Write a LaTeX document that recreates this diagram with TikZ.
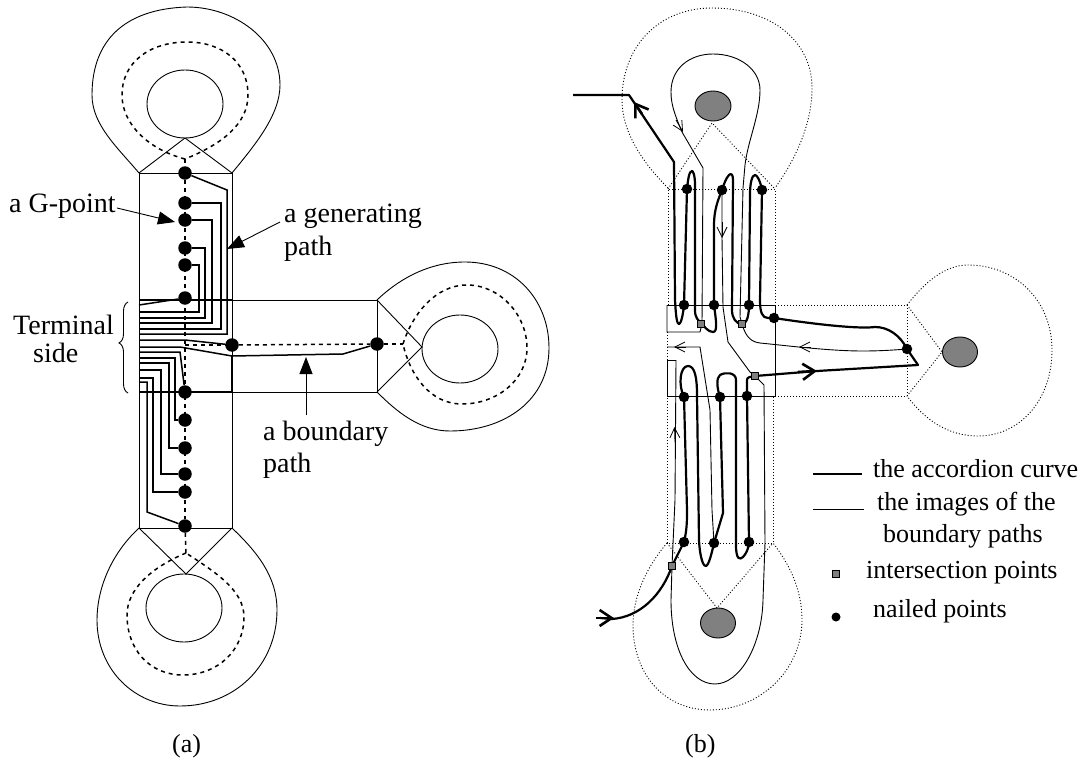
\documentclass[tikz,border=0pt]{standalone}
\usepackage{fontspec}
\setmainfont{Liberation Serif}
\usetikzlibrary{arrows.meta,decorations.pathreplacing}
\tikzset{
	lbl/.style={font=\fontsize{26}{30}\selectfont,anchor=base west,inner sep=0pt},
	biglbl/.style={font=\fontsize{28}{32}\selectfont,anchor=base west,inner sep=0pt},
	thinline/.style={line width=0.9pt},
	dashline/.style={line width=1.5pt,dash pattern=on 4pt off 4pt},
	dotline/.style={line width=0.9pt,dash pattern=on 1pt off 2pt},
	genpath/.style={line width=1.5pt},
	accord/.style={line width=2.2pt,line join=round},
	pointer/.style={line width=0.9pt,-{Triangle[length=17pt,width=13pt]}},
	gpt/.style={circle,fill=black,inner sep=0pt,minimum size=13.5pt},
	nailpt/.style={circle,fill=black,inner sep=0pt,minimum size=10.5pt},
	interpt/.style={rectangle,draw=black,fill=black!50,line width=0.6pt,inner sep=0pt,minimum size=7pt},
	hole/.style={draw=black,fill=black!50,line width=0.9pt},
	bigbarb/.style={line width=2.6pt,-{Straight Barb[length=12pt,width=16pt]}},
	smallbarb/.style={line width=0.8pt,-{Straight Barb[length=10pt,width=10pt]}}
}
\begin{document}
\begin{tikzpicture}[x=1pt,y=-1pt]
	\useasboundingbox (0,0) rectangle (1088,768);

	% (a) frame and lobes
	\draw[thinline] (139,173) rectangle (232,528);
	\draw[thinline] (232,300) rectangle (377,392);
	\draw[thinline] (139,173)--(185,138)--(232,173);
	\draw[thinline] (377,300)--(422,347)--(377,392);
	\draw[thinline] (139,528)--(186,574)--(232,528);
	\draw[thinline] (139,173) .. controls (118,148) and (92,125) .. (92,95) .. controls (92,40) and (125,9) .. (187,7) .. controls (235,7) and (280,40) .. (280,85) .. controls (280,115) and (255,145) .. (232,173);
	\draw[thinline] (139,528) .. controls (110,555) and (97,590) .. (97,620) .. controls (97,670) and (135,706) .. (180,706) .. controls (235,706) and (277,665) .. (277,610) .. controls (277,575) and (255,550) .. (232,528);
	\draw[thinline] (377,300) .. controls (400,278) and (430,262) .. (465,262) .. controls (515,262) and (549,300) .. (549,348) .. controls (549,400) and (505,431) .. (450,431) .. controls (420,431) and (397,412) .. (377,392);
	\draw[thinline] (185,104) ellipse (38 and 34);
	\draw[thinline] (184,608) ellipse (38 and 34);
	\draw[thinline] (460,349) ellipse (38 and 34);
	\draw[dashline] (185,159) .. controls (150,150) and (122,125) .. (122,95) .. controls (122,62) and (150,42) .. (187,42) .. controls (222,42) and (248,62) .. (248,95) .. controls (248,125) and (220,145) .. (185,159);
	\draw[dashline] (186,553) .. controls (150,568) and (127,590) .. (127,615) .. controls (127,650) and (150,675) .. (183,675) .. controls (218,675) and (244,650) .. (244,617) .. controls (244,590) and (215,572) .. (186,553);
	\draw[dashline] (403,344) .. controls (412,315) and (435,285) .. (467,285) .. controls (500,285) and (527,315) .. (527,348) .. controls (527,380) and (497,404) .. (462,404) .. controls (430,404) and (410,375) .. (403,344);

	% G-points
	\foreach \n/\y in {1/173,2/203,3/220,4/248,5/265,6/298,7/392,8/420,9/448,10/474,11/492,12/526}
		\node[gpt] (g\n) at (185,\y) {};
	\node[gpt] (bl) at (232,345) {};
	\node[gpt] (br) at (377,344) {};
	\coordinate (dtop) at (185,159);
	\coordinate (dbot) at (186,553);
	\coordinate (dright) at (403,344);
	\coordinate (dmid) at (185,345);
	\draw[dashline] (dtop)--(g1);
	\draw[dashline] (g1)--(g12);
	\draw[dashline] (g12)--(dbot);
	\draw[dashline] (dmid)--(bl);
	\draw[dashline] (bl)--(br);
	\draw[dashline] (br)--(dright);

	% generating paths
	\draw[genpath] (139,305)--(g6);
	\foreach \ya/\xb/\n in {312/199/5,318/205/4,323/212/3,329/221/2}
		\draw[genpath] (139,\ya)--(\xb,\ya) |- (g\n);
	\draw[genpath] (139,334)--(227,334)--(227,190)--(g1);
	\foreach \ya/\xb/\n in {358/175/8,363/169/9,370/161/10,378/153/11}
		\draw[genpath] (139,\ya)--(\xb,\ya) |- (g\n);
	\draw[genpath] (139,382)--(147,382)--(147,512)--(g12);
	\draw[genpath] (139,300)--(232,300);
	\draw[genpath] (139,392)--(232,392);
	\draw[genpath] (139,340)--(185,340)--(bl);
	\draw[genpath] (139,347)--(180,347)--(232,356)--(343,354)--(br);
	\draw[genpath] (139,352)--(180,352)--(g7);
	\draw[genpath] (232,356)--(232,392);

	\node[biglbl] (gtext) at (9,212) {a G-point};
	\node[biglbl] (term1) at (13,334) {Terminal};
	\node[biglbl] (term2) at (33,362) {side};
	\node[biglbl] (gen1) at (284,222) {a generating};
	\node[biglbl] (gen2) at (284,255) {path};
	\node[biglbl] (bnd1) at (263,440) {a boundary};
	\node[biglbl] (bnd2) at (263,472) {path};
	\node[lbl] (capa) at (172,752) {(a)};
	\coordinate (gtip) at (175,222);
	\coordinate (ptip) at (227,249);
	\coordinate (btip) at (306,357);
	\draw[pointer] (117,208)--(gtip);
	\draw[pointer] (280,222)--(ptip);
	\draw[pointer] (306,415)--(btip);
	\draw[thinline,decorate,decoration={brace,amplitude=9pt,aspect=0.55}] (128,393)--(128,302);

	% (b) dotted frame and lobes
	\draw[dotline] (668,305)--(668,189)--(775,189)--(775,305);
	\draw[dotline] (775,305)--(907,305)--(907,396)--(775,396);
	\draw[dotline] (667,332)--(667,543)--(773,543)--(773,396);
	\draw[dotline] (668,189)--(712,123)--(775,189);
	\draw[dotline] (907,305)--(942,352)--(907,396);
	\draw[dotline] (667,543)--(717,608)--(773,543);
	\draw[dotline] (668,188) .. controls (640,160) and (622,130) .. (622,100) .. controls (622,45) and (660,8) .. (712,8) .. controls (770,8) and (812,40) .. (812,88) .. controls (812,125) and (795,160) .. (775,188);
	\draw[dotline] (907,305) .. controls (925,282) and (945,265) .. (968,265) .. controls (1015,265) and (1052,300) .. (1052,350) .. controls (1052,400) and (1020,436) .. (978,436) .. controls (948,436) and (925,420) .. (907,396);
	\draw[dotline] (667,543) .. controls (648,565) and (633,595) .. (633,625) .. controls (633,675) and (665,710) .. (710,710) .. controls (760,710) and (802,670) .. (802,620) .. controls (802,590) and (790,565) .. (773,543);
	\draw[hole] (713,106) ellipse (18 and 15);
	\draw[hole] (960,352) ellipse (17.5 and 15);
	\draw[hole] (718,623) ellipse (17.5 and 15);

	% images of the boundary paths
	\draw[thinline] (667,305)--(775,305)--(775,396)--(667,396)--(667,360)--(676,360);
	\draw[thinline] (667,305)--(667,332)--(700,332)--(702,324);
	\draw[thinline] (667,347)--(700,347)--(710,410)--(712,510)--(714,543);
	\draw[thinline] (702,324)--(703,168)--(682,132) .. controls (675,115) and (671,105) .. (671,92) .. controls (671,68) and (690,54) .. (713,54) .. controls (740,54) and (760,70) .. (760,90) .. controls (760,115) and (748,140) .. (745,165)--(743,188)--(740,317)--(742,324);
	\draw[thinline] (742,324) .. controls (746,338) and (752,342) .. (760,343) .. controls (790,346) and (830,351) .. (863,351) .. controls (880,351) and (895,350) .. (907,349);
	\draw[thinline] (722,190)--(722,237)--(723,307)--(728,342)--(750,372)--(755,376)--(764,385)--(765,543)--(763,600) .. controls (762,645) and (740,684) .. (715,684) .. controls (690,684) and (671,650) .. (671,600)--(672,566)--(675,500)--(676,360);

	% the accordion curve
	\draw[accord] (600,618)--(612,619) .. controls (640,617) and (662,595) .. (672,566)--(684,542) .. controls (687,530) and (687,520) .. (687,510)--(684,397) .. controls (678,385) and (680,366) .. (688,366) .. controls (695,366) and (697,378) .. (697,395)--(699,540) .. controls (700,560) and (704,567) .. (706,566) .. controls (709,565) and (712,552) .. (714,543)--(723,513)--(720,397) .. controls (717,388) and (716,378) .. (720,375) .. controls (725,372) and (736,372) .. (736,380)--(736,545) .. controls (736,560) and (740,560) .. (743,557) .. controls (746,554) and (749,548) .. (749,542)--(747,396)--(747,380) .. controls (747,377) and (750,377) .. (755,376)--(817,371)--(918,365)--(907,349);
	\draw[accord] (907,349) .. controls (900,335) and (888,327) .. (875,327) .. controls (860,329) and (820,325) .. (774,318)--(768,318) .. controls (762,318) and (760,312) .. (760,300)--(762,190) .. controls (760,180) and (757,175) .. (755,175) .. controls (752,175) and (750,183) .. (750,195)--(749,305) .. controls (749,315) and (747,324) .. (742,324) .. controls (736,324) and (732,318) .. (732,310)--(733,180) .. controls (733,174) and (731,173) .. (729,175) .. controls (726,178) and (724,184) .. (722,190) .. controls (718,200) and (714,210) .. (714,225)--(714,305) .. controls (716,320) and (718,332) .. (713,332) .. controls (708,332) and (704,326) .. (702,324) .. controls (698,320) and (695,318) .. (695,310)--(695,185) .. controls (695,175) and (693,171) .. (692,171) .. controls (689,171) and (688,180) .. (687,189)--(684,305) .. controls (683,315) and (681,324) .. (679,324) .. controls (677,324) and (676,318) .. (675,300)--(674,162)--(629,95)--(573,95);

	% arrows along the curves
	\draw[bigbarb] (642,114)--(634,102);
	\draw[bigbarb] (798,372)--(817,371);
	\draw[bigbarb] (596,618)--(614,618);
	\draw[smallbarb] (676,120)--(683,132);
	\draw[smallbarb] (722,222)--(722,238);
	\draw[smallbarb] (686,347)--(674,347);
	\draw[smallbarb] (811,347)--(799,347);
	\draw[smallbarb] (675,442)--(674.5,427);

	% nailed and intersection points
	\foreach \n/\x/\y in {1/687/189,2/722/190,3/762/190,4/684/305,5/714/305,6/749/305,7/774/318,8/907/349,9/684/397,10/720/397,11/747/396,12/684/542,13/714/543,14/749/542}
		\node[nailpt] (n\n) at (\x,\y) {};
	\foreach \n/\x/\y in {1/701/324,2/742/324,3/755/376,4/672/566}
		\node[interpt] (s\n) at (\x,\y) {};

	% legend
	\coordinate (la) at (813,474);
	\coordinate (lb) at (862,474);
	\coordinate (lc) at (813,509);
	\coordinate (ld) at (864,509);
	\draw[accord] (la)--(lb);
	\draw[thinline] (lc)--(ld);
	\node[lbl] (ltext1) at (873,477) {the accordion curve};
	\node[lbl] (ltext2) at (877,510) {the images of the};
	\node[lbl] (ltext3) at (883,542) {boundary paths};
	\node[interpt] (lsq) at (836,574) {};
	\node[lbl] (ltext4) at (866,578) {intersection points};
	\node[nailpt,minimum size=9pt] (ldot) at (836,617) {};
	\node[lbl] (ltext5) at (873,617) {nailed points};
	\node[lbl] (capb) at (685,752) {(b)};
\end{tikzpicture}
\end{document}
